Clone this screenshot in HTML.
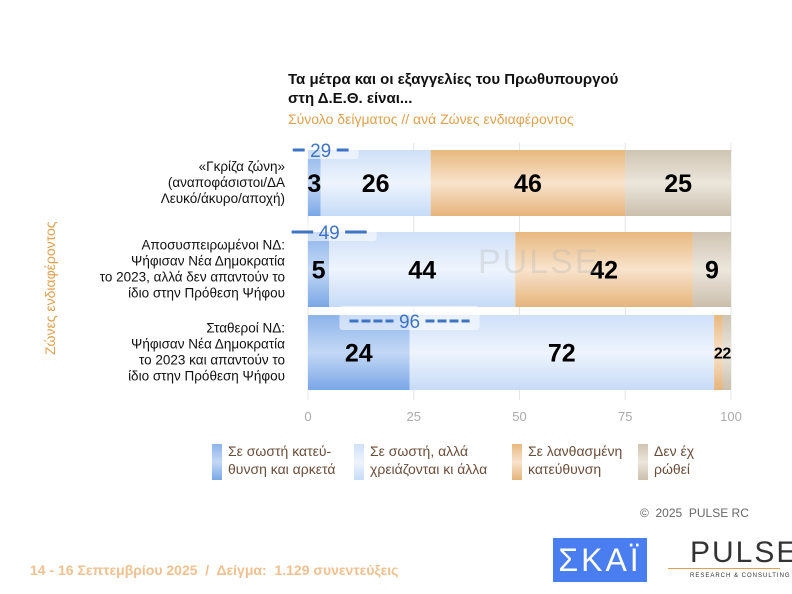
<!DOCTYPE html>
<html><head><meta charset="utf-8"><style>
body{margin:0;width:792px;height:594px;background:#fff;font-family:"Liberation Sans","DejaVu Sans",sans-serif;position:relative;overflow:hidden}
.a{position:absolute}
</style></head><body>
<div class="a" style="left:288px;top:70px;font-size:15px;font-weight:bold;color:#111;line-height:19px">Τα μέτρα και οι εξαγγελίες του Πρωθυπουργού<br>στη Δ.Ε.Θ. είναι...</div>
<div class="a" style="left:288px;top:111px;font-size:14px;color:#e0a050">Σύνολο δείγματος // ανά Ζώνες ενδιαφέροντος</div>
<div class="a" style="left:42px;top:355px;transform:rotate(-90deg);transform-origin:0 0;font-size:14px;color:#e0a050;white-space:nowrap">Ζώνες ενδιαφέροντος</div>
<svg class="a" style="left:0;top:0" width="792" height="594" id="chart">
<defs>
<linearGradient id="g0" x1="0" y1="0" x2="0" y2="1"><stop offset="0" stop-color="#8db4ea"/><stop offset=".5" stop-color="#c3d8f6"/><stop offset="1" stop-color="#7aa7e6"/></linearGradient>
<linearGradient id="g1" x1="0" y1="0" x2="0" y2="1"><stop offset="0" stop-color="#cfe0f8"/><stop offset=".5" stop-color="#eef4fd"/><stop offset="1" stop-color="#c6dbf7"/></linearGradient>
<linearGradient id="g2" x1="0" y1="0" x2="0" y2="1"><stop offset="0" stop-color="#e8b87e"/><stop offset=".5" stop-color="#f8e3cc"/><stop offset="1" stop-color="#e6b47a"/></linearGradient>
<linearGradient id="g3" x1="0" y1="0" x2="0" y2="1"><stop offset="0" stop-color="#cfc4b2"/><stop offset=".5" stop-color="#ece6dc"/><stop offset="1" stop-color="#cbbfac"/></linearGradient>
</defs>
</svg>
<div class="a" style="left:478px;top:243px;font-size:34px;color:rgba(180,180,180,.3);letter-spacing:2px">PULSE</div>
<div>
<div class="a" style="left:212px;top:444px;width:10px;height:36px;background:linear-gradient(#8db4ea,#c3d8f6,#7aa7e6)"></div>
<div class="a" style="left:228px;top:442px;font-size:14px;color:#6b4e3a;line-height:18px">Σε σωστή κατεύ-<br>θυνση και αρκετά</div>
<div class="a" style="left:354px;top:444px;width:10px;height:36px;background:linear-gradient(#cfe0f8,#eef4fd,#c6dbf7)"></div>
<div class="a" style="left:370px;top:442px;font-size:14px;color:#6b4e3a;line-height:18px">Σε σωστή, αλλά<br>χρειάζονται κι άλλα</div>
<div class="a" style="left:512px;top:444px;width:10px;height:36px;background:linear-gradient(#e8b87e,#f8e3cc,#e6b47a)"></div>
<div class="a" style="left:528px;top:442px;font-size:14px;color:#6b4e3a;line-height:18px">Σε λανθασμένη<br>κατεύθυνση</div>
<div class="a" style="left:638px;top:444px;width:10px;height:36px;background:linear-gradient(#cfc4b2,#ece6dc,#cbbfac)"></div>
<div class="a" style="left:654px;top:442px;font-size:14px;color:#6b4e3a;line-height:18px">Δεν έχ<br>ρώθεί</div>
</div>
<div class="a" style="left:640px;top:506px;font-size:12px;color:#666">©&nbsp; 2025&nbsp; PULSE RC</div>
<div class="a" style="left:30px;top:562px;font-size:14px;font-weight:bold;color:#f0c090">14 - 16 Σεπτεμβρίου 2025&nbsp; /&nbsp; Δείγμα:&nbsp; 1.129 συνεντεύξεις</div>
<div class="a" style="left:553px;top:538px;width:94px;height:44px;background:#4a7ef0;color:#fff;font-size:32px;text-align:center;line-height:44px;letter-spacing:3px">ΣΚΑΪ</div>
<div class="a" style="left:690px;top:536px;font-size:30px;color:#333;letter-spacing:2px">PULSE</div>
<div class="a" style="left:690px;top:573px;font-size:6px;color:#333;letter-spacing:1px">RESEARCH &amp; CONSULTING</div>
<div class="a" style="left:668px;top:568px;width:112px;height:1px;background:#e0a050"></div>
<script>
const categories=[["«Γκρίζα ζώνη»","(αναποφάσιστοι/ΔΑ","Λευκό/άκυρο/αποχή)"],["Αποσυσπειρωμένοι ΝΔ:","Ψήφισαν Νέα Δημοκρατία","το 2023, αλλά δεν απαντούν το","ίδιο στην Πρόθεση Ψήφου"],["Σταθεροί ΝΔ:","Ψήφισαν Νέα Δημοκρατία","το 2023 και απαντούν το","ίδιο στην Πρόθεση Ψήφου"]];
const s1=[3,5,24];
const s2=[26,44,72];
const s3=[46,42,2];
const s4=[25,9,2];
const totals=[29,49,96];
const ticks=[0,25,50,75,100];
const svg=document.getElementById('chart');
const NS='http://www.w3.org/2000/svg';
const x=v=>308+v*4.23;
const rows=[{y:150,h:66},{y:232,h:75},{y:315,h:75}];
function el(t,a,p){const e=document.createElementNS(NS,t);for(const k in a)e.setAttribute(k,a[k]);(p||svg).appendChild(e);return e;}
ticks.forEach(t=>{
 const l=el('line',{x1:x(t),x2:x(t),y1:143,y2:400,stroke:'#e4e4e4','stroke-width':1});
 
 
 const tx=el('text',{x:x(t),y:421,'text-anchor':'middle','font-size':13,fill:'#aaa'});
 tx.textContent=t;
 
 
});
const series=[s1,s2,s3,s4];
categories.forEach((c,i)=>{
 const r=rows[i];let acc=0;
 series.forEach((s,j)=>{
  const v=s[i];
  const b=el('rect',{x:x(acc),y:r.y,width:x(acc+v)-x(acc),height:r.h,fill:'url(#g'+j+')'});
  
  
  const fs=v<3?16:25;
  const t=el('text',{x:(x(acc)+x(acc+v))/2,y:r.y+r.h/2+(v<3?6:9),'text-anchor':'middle','font-size':fs,'font-weight':'bold',fill:'#000','font-family':'"Liberation Sans Narrow","Liberation Sans",sans-serif'});
  t.textContent=v;
  
  
  acc+=v;
 });
 const lines=c;const lh=16;const y0=r.y+r.h/2-(lines.length*lh)/2+12;
 lines.forEach((ln,k)=>{
  const t=el('text',{x:285,y:y0+k*lh,'text-anchor':'end','font-size':13.5,fill:'#111'});
  t.textContent=ln;
  
  
 });
 const cx=x(s1[i]);
 const half=14+totals[i]*0.48;
 const bx=el('rect',{x:cx-half-10,y:r.y-9,width:half*2+20,height:i==2?24:18,rx:3,fill:'rgba(255,255,255,.55)'});
 
 
 const ly=r.y+(i==2?6:0);
 const l1=el('line',{x1:cx-half,x2:cx-16,y1:ly,y2:ly,stroke:'#3f74c4','stroke-width':3,'stroke-dasharray':i==2?'9 3':'none'});
 
 
 const l2=el('line',{x1:cx+16,x2:cx+half,y1:ly,y2:ly,stroke:'#3f74c4','stroke-width':3,'stroke-dasharray':i==2?'9 3':'none'});
 
 
 const t=el('text',{x:cx,y:ly+7,'text-anchor':'middle','font-size':19,fill:'#3f74c4'});
 t.textContent=totals[i];
 
 
});
</script>
</body></html>
